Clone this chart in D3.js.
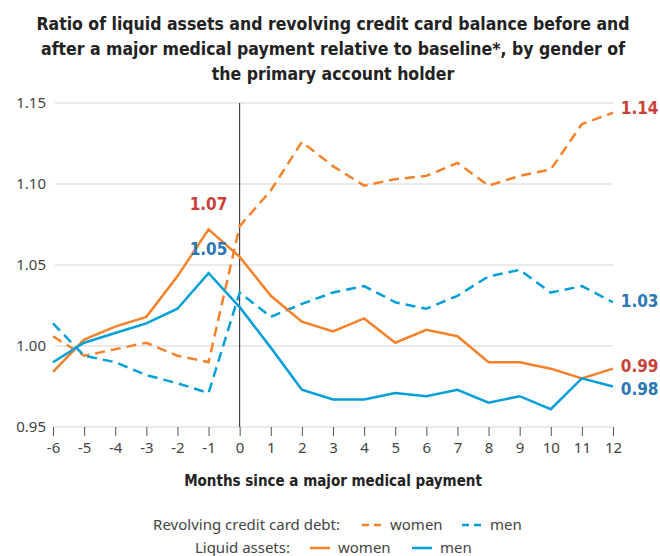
<!DOCTYPE html>
<html>
<head>
<meta charset="utf-8">
<script src="https://cdn.jsdelivr.net/npm/d3@7"></script>
<style>
  body { margin: 0; background: #fff; }
  svg text { font-family: "DejaVu Sans Condensed", "DejaVu Sans", sans-serif; }
  svg text.reg { font-family: "Noto Sans", "DejaVu Sans", sans-serif; }
</style>
</head>
<body>
<svg id="chart" width="660" height="556"></svg>
<script>
// months since the medical payment
const months = [-6, -5, -4, -3, -2, -1, 0, 1, 2, 3, 4, 5, 6, 7, 8, 9, 10, 11, 12];

// revolving credit card debt
const creditWomen = [1.006, 0.994, 0.998, 1.002, 0.994, 0.990, 1.074, 1.096, 1.126, 1.111, 1.099, 1.103, 1.105, 1.113, 1.099, 1.105, 1.109, 1.137, 1.144];
const creditMen = [1.014, 0.994, 0.990, 0.982, 0.977, 0.971, 1.033, 1.018, 1.026, 1.033, 1.037, 1.027, 1.023, 1.031, 1.043, 1.047, 1.033, 1.037, 1.027];

// liquid assets
const liquidWomen = [0.984, 1.004, 1.012, 1.018, 1.043, 1.072, 1.055, 1.031, 1.015, 1.009, 1.017, 1.002, 1.010, 1.006, 0.990, 0.990, 0.986, 0.980, 0.986];
const liquidMen = [0.990, 1.002, 1.008, 1.014, 1.023, 1.045, 1.024, 0.999, 0.973, 0.967, 0.967, 0.971, 0.969, 0.973, 0.965, 0.969, 0.961, 0.980, 0.975];

const yTicks = [0.95, 1.00, 1.05, 1.10, 1.15];

const orange = "#f5822a";
const blue = "#049fd9";
const labelRed = "#c9423a";
const labelBlue = "#2b77b3";

const svg = d3.select("#chart");

const x = d3.scaleLinear().domain([-6, 12]).range([53, 613]);
const y = d3.scaleLinear().domain([0.95, 1.15]).range([427, 103]);

// title
const title = ["Ratio of liquid assets and revolving credit card balance before and",
               "after a major medical payment relative to baseline*, by gender of",
               "the primary account holder"];
svg.append("g").selectAll("text")
    .data(title)
    .enter().append("text")
    .attr("x", 333)
    .attr("y", (d, i) => 30 + i * 25)
    .attr("text-anchor", "middle")
    .attr("font-size", 17.5)
    .attr("font-weight", "bold")
    .attr("fill", "#222")
    .text(d => d);

// gridlines
svg.append("g").selectAll("line")
    .data(yTicks)
    .enter().append("line")
    .attr("x1", 55).attr("x2", 613)
    .attr("y1", d => y(d)).attr("y2", d => y(d))
    .attr("stroke", "#e3e3e3")
    .attr("stroke-width", 1.3);

// y tick labels
svg.append("g").selectAll("text")
    .data(yTicks)
    .enter().append("text")
    .attr("class", "reg")
    .attr("x", 46)
    .attr("y", d => y(d) + 5)
    .attr("text-anchor", "end")
    .attr("font-size", 15)
    .attr("fill", "#444")
    .text(d => d.toFixed(2));

// x axis
const xAxis = d3.axisBottom(x)
    .tickValues(months)
    .tickSize(9)
    .tickPadding(6)
    .tickFormat(d => String(d));
const gx = svg.append("g")
    .attr("transform", `translate(0,${y(0.95)})`)
    .call(xAxis);
gx.select(".domain").remove();
gx.selectAll(".tick line").attr("stroke", "#555");
gx.selectAll(".tick text")
    .attr("class", "reg")
    .attr("font-size", 15)
    .attr("fill", "#444")
    .style("font-family", "\"Noto Sans\", sans-serif");

// payment line at month 0
svg.append("line")
    .attr("x1", x(0)).attr("x2", x(0))
    .attr("y1", y(1.15)).attr("y2", y(0.95))
    .attr("stroke", "#222")
    .attr("stroke-width", 1);

const line = d3.line()
    .x((d, i) => x(months[i]))
    .y(d => y(d));

const series = [
    { values: creditWomen, color: orange, dash: "10,6" },
    { values: creditMen, color: blue, dash: "10,6" },
    { values: liquidWomen, color: orange, dash: null },
    { values: liquidMen, color: blue, dash: null }
];

svg.append("g").selectAll("path")
    .data(series)
    .enter().append("path")
    .attr("d", d => line(d.values))
    .attr("fill", "none")
    .attr("stroke", d => d.color)
    .attr("stroke-width", 2.5)
    .attr("stroke-dasharray", d => d.dash);

// value labels
const labels = [
    { text: "1.07", mx: -1, v: 1.084, color: labelRed, anchor: "middle" },
    { text: "1.05", mx: -1, v: 1.056, color: labelBlue, anchor: "middle" },
    { text: "1.14", mx: 12.25, v: 1.143, color: labelRed, anchor: "start" },
    { text: "1.03", mx: 12.25, v: 1.024, color: labelBlue, anchor: "start" },
    { text: "0.99", mx: 12.25, v: 0.984, color: labelRed, anchor: "start" },
    { text: "0.98", mx: 12.25, v: 0.970, color: labelBlue, anchor: "start" }
];
svg.append("g").selectAll("text")
    .data(labels)
    .enter().append("text")
    .attr("x", d => x(d.mx))
    .attr("y", d => y(d.v))
    .attr("text-anchor", d => d.anchor)
    .attr("font-size", 17)
    .attr("font-weight", "bold")
    .attr("fill", d => d.color)
    .text(d => d.text);

// x axis title
svg.append("text")
    .attr("x", 333)
    .attr("y", 486)
    .attr("text-anchor", "middle")
    .attr("font-size", 15)
    .attr("font-weight", "bold")
    .attr("fill", "#222")
    .text("Months since a major medical payment");

// legend
const legendRows = [
    { label: "Revolving credit card debt:", lx: 340, y: 530, dash: "7,5",
      items: [{ x: 362, color: orange, text: "women" }, { x: 462, color: blue, text: "men" }] },
    { label: "Liquid assets:", lx: 290, y: 553, dash: null,
      items: [{ x: 310, color: orange, text: "women" }, { x: 412, color: blue, text: "men" }] }
];
legendRows.forEach(row => {
    const g = svg.append("g");
    g.append("text")
        .attr("class", "reg")
        .attr("x", row.lx)
        .attr("y", row.y)
        .attr("text-anchor", "end")
        .attr("font-size", 15)
        .attr("fill", "#444")
        .text(row.label);
    row.items.forEach(item => {
        g.append("line")
            .attr("x1", item.x).attr("x2", item.x + 20)
            .attr("y1", row.y - 5).attr("y2", row.y - 5)
            .attr("stroke", item.color)
            .attr("stroke-width", 2.5)
            .attr("stroke-dasharray", row.dash);
        g.append("text")
            .attr("class", "reg")
            .attr("x", item.x + 28)
            .attr("y", row.y)
            .attr("font-size", 15)
            .attr("fill", "#444")
            .text(item.text);
    });
});
</script>
</body>
</html>
